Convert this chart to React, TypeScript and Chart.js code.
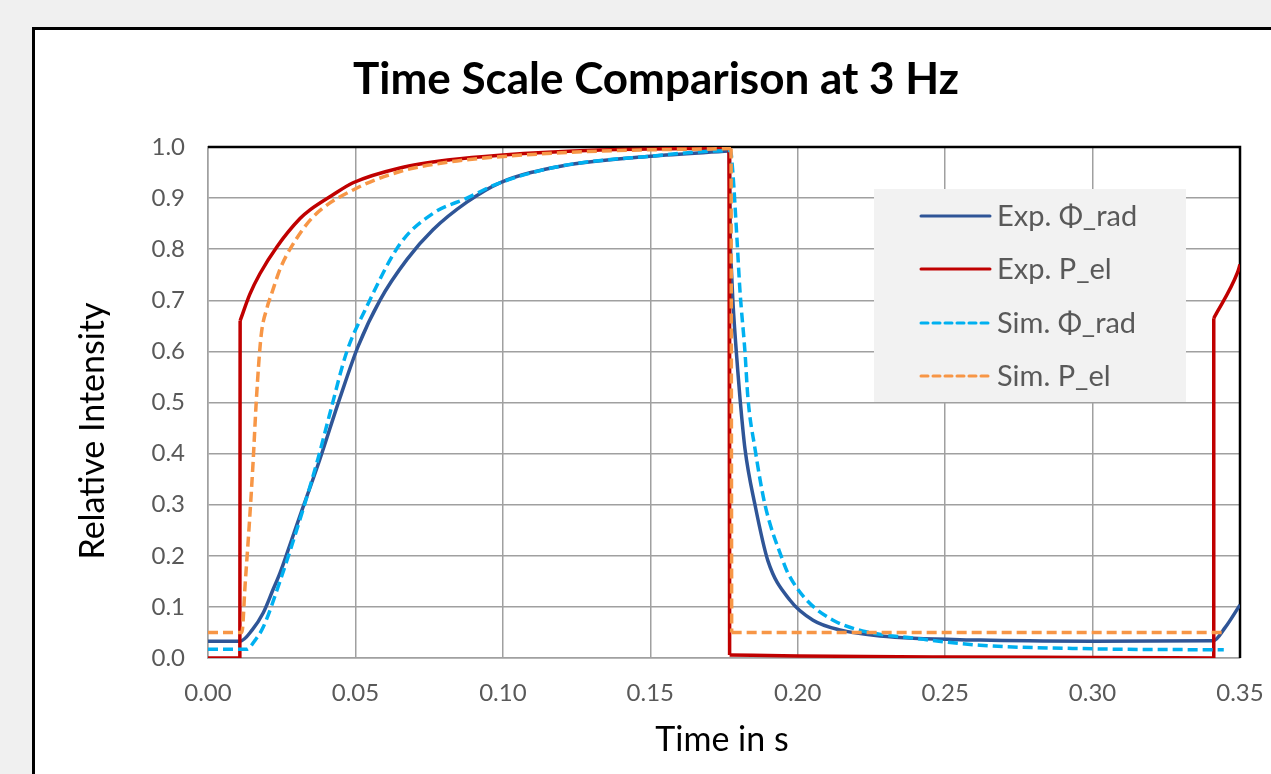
import { useEffect, useRef } from "react";
import { Chart, registerables } from "chart.js";

Chart.register(...registerables);

const FONT = "Lato, 'Noto Sans', 'DejaVu Sans', sans-serif";

const chartTitle = "Time Scale Comparison at 3 Hz";
const xAxisTitle = "Time in s";
const yAxisTitle = "Relative Intensity";

const seriesLabels = ["Exp. Φ_rad", "Exp. P_el", "Sim. Φ_rad", "Sim. P_el"];
const seriesColors = ["#2F5597", "#C00000", "#00B0F0", "#F79646"];

// Exp. Φ_rad
const expRadT = [0, 0.0109, 0.015, 0.0187, 0.022, 0.0244, 0.028, 0.0319, 0.035, 0.038, 0.0448, 0.0509, 0.0583, 0.0675, 0.0763, 0.0878, 0.099, 0.12, 0.15, 0.1768, 0.1772, 0.178, 0.1797, 0.1804, 0.1821, 0.1855, 0.1899, 0.1974, 0.2052, 0.2143, 0.2279, 0.2618, 0.3, 0.341, 0.345, 0.35];
const expRadY = [0.033, 0.033, 0.055, 0.088, 0.133, 0.166, 0.225, 0.29, 0.34, 0.39, 0.51, 0.61, 0.7, 0.78, 0.838, 0.892, 0.93, 0.963, 0.982, 0.992, 0.8, 0.7, 0.56, 0.51, 0.41, 0.3, 0.19, 0.113, 0.074, 0.055, 0.043, 0.035, 0.033, 0.034, 0.06, 0.104];

// Exp. P_el
const expPelT = [0, 0.0108, 0.0109, 0.0142, 0.0176, 0.0234, 0.0312, 0.0346, 0.042, 0.0492, 0.0651, 0.0821, 0.099, 0.133, 0.1767, 0.1769, 0.2, 0.25, 0.3, 0.3409, 0.3411, 0.3492, 0.35];
const expPelY = [0, 0, 0.66, 0.712, 0.752, 0.805, 0.86, 0.877, 0.905, 0.93, 0.959, 0.975, 0.984, 0.994, 0.998, 0.006, 0.004, 0.002, 0.001, 0, 0.665, 0.755, 0.77];

// Sim. Φ_rad
const simRadT = [0, 0.0131, 0.016, 0.0187, 0.0244, 0.0322, 0.0373, 0.0414, 0.0471, 0.0532, 0.0651, 0.0763, 0.0878, 0.099, 0.12, 0.15, 0.1772, 0.178, 0.1794, 0.1804, 0.1821, 0.1831, 0.1855, 0.1889, 0.195, 0.1967, 0.2031, 0.212, 0.2235, 0.2391, 0.2618, 0.3, 0.3445];
const simRadY = [0.017, 0.017, 0.035, 0.06, 0.15, 0.29, 0.39, 0.48, 0.6, 0.68, 0.81, 0.87, 0.9, 0.93, 0.963, 0.982, 0.993, 0.95, 0.82, 0.72, 0.6, 0.51, 0.41, 0.3, 0.19, 0.166, 0.113, 0.074, 0.051, 0.039, 0.025, 0.018, 0.016];

// Sim. P_el
const simPelT = [0, 0.0115, 0.01255, 0.0141, 0.01526, 0.01645, 0.018, 0.02, 0.0217, 0.0245, 0.0278, 0.0356, 0.0492, 0.0651, 0.0821, 0.099, 0.133, 0.1774, 0.1776, 0.3445];
const simPelY = [0.05, 0.05, 0.14, 0.27, 0.38, 0.51, 0.63, 0.685, 0.715, 0.762, 0.8, 0.863, 0.916, 0.952, 0.971, 0.981, 0.992, 0.997, 0.05, 0.05];

const seriesT = [expRadT, expPelT, simRadT, simPelT];
const seriesY = [expRadY, expPelY, simRadY, simPelY];
const seriesDash: number[][] = [[], [], [10, 5], [10, 5]];
const seriesOrder = [4, 3, 2, 1];

// Split a series into smooth curve pieces and straight vertical steps.
function splitSeries(t: number[], y: number[]) {
  const curve: { x: number; y: number | null }[] = [];
  const steps: { x: number; y: number | null }[] = [];
  for (let k = 0; k < t.length; k++) {
    curve.push({ x: t[k], y: y[k] });
    if (k < t.length - 1 && t[k + 1] - t[k] < 0.0005 && Math.abs(y[k + 1] - y[k]) > 0.15) {
      curve.push({ x: (t[k] + t[k + 1]) / 2, y: null });
      steps.push({ x: t[k], y: y[k] }, { x: t[k + 1], y: y[k + 1] }, { x: t[k + 1], y: null });
    }
  }
  return { curve, steps };
}

const framePlugin = {
  id: "frame",
  beforeDatasetsDraw(chart: any) {
    const { ctx, chartArea } = chart;
    ctx.save();
    ctx.strokeStyle = "#000";
    ctx.lineWidth = 2.5;
    ctx.beginPath();
    ctx.moveTo(chartArea.left, chartArea.top);
    ctx.lineTo(chartArea.right, chartArea.top);
    ctx.lineTo(chartArea.right, chartArea.bottom);
    ctx.stroke();
    ctx.restore();
  },
  afterDraw(chart: any) {
    const { ctx, chartArea } = chart;
    ctx.save();
    // title
    ctx.fillStyle = "#000";
    ctx.font = `bold 44px ${FONT}`;
    ctx.textAlign = "center";
    ctx.textBaseline = "middle";
    ctx.fillText(chartTitle, 621, 50);

    // axis titles
    ctx.font = `34px ${FONT}`;
    ctx.fillText(xAxisTitle, (chartArea.left + chartArea.right) / 2 - 2, 710);
    ctx.save();
    ctx.translate(58, 401);
    ctx.rotate(-Math.PI / 2);
    ctx.fillText(yAxisTitle, 0, 0);
    ctx.restore();

    // legend
    const bx = chartArea.left + 666;
    const by = chartArea.top + 42;
    ctx.fillStyle = "#f2f2f2";
    ctx.fillRect(bx, by, 312, 213);
    const rows = [27, 80, 134, 187];
    seriesLabels.forEach((label, i) => {
      const y = by + rows[i];
      ctx.strokeStyle = seriesColors[i];
      ctx.lineWidth = 3;
      ctx.lineCap = "round";
      ctx.setLineDash(seriesDash[i].length ? [7, 5] : []);
      ctx.beginPath();
      ctx.moveTo(bx + 47, y);
      ctx.lineTo(bx + 116, y);
      ctx.stroke();
      ctx.setLineDash([]);
      ctx.fillStyle = "#595959";
      ctx.font = `29px ${FONT}`;
      ctx.textAlign = "left";
      ctx.textBaseline = "middle";
      ctx.fillText(label, bx + 123, y + 1);
    });
    ctx.restore();
  },
};

export default function App() {
  const ref = useRef<HTMLCanvasElement>(null);

  useEffect(() => {
    const canvas = ref.current;
    if (!canvas) return;
    const grid = { color: "#a0a0a0", lineWidth: 1.5, drawTicks: false };
    const border = { color: "#a0a0a0", width: 1.5 };
    const datasets: any[] = [];
    seriesLabels.forEach((label, i) => {
      const { curve, steps } = splitSeries(seriesT[i], seriesY[i]);
      const common = {
        showLine: true,
        borderColor: seriesColors[i],
        backgroundColor: seriesColors[i],
        borderWidth: 3.5,
        borderDash: seriesDash[i],
        pointRadius: 0,
        pointHoverRadius: 0,
        spanGaps: false,
        order: seriesOrder[i],
      };
      datasets.push({ ...common, label, data: curve, cubicInterpolationMode: "monotone" });
      if (steps.length) datasets.push({ ...common, label: label + " step", data: steps, tension: 0 });
    });
    const chart = new Chart(canvas, {
      type: "scatter",
      data: { datasets },
      options: {
        animation: false,
        responsive: false,
        devicePixelRatio: 1,
        layout: { padding: { top: 117, right: 31, bottom: 0, left: 0 } },
        plugins: {
          legend: { display: false },
          tooltip: { enabled: false },
          title: { display: false },
        },
        scales: {
          x: {
            type: "linear",
            min: 0,
            max: 0.35,
            ticks: {
              stepSize: 0.05,
              callback: (v: any) => Number(v).toFixed(2),
              color: "#595959",
              font: { family: FONT, size: 24 },
              padding: 21,
              maxRotation: 0,
            },
            grid,
            border,
            afterFit: (s: any) => {
              s.height = 116;
              s.paddingLeft = 0;
              s.paddingRight = 0;
            },
          },
          y: {
            type: "linear",
            min: 0,
            max: 1,
            ticks: {
              stepSize: 0.1,
              callback: (v: any) => Number(v).toFixed(1),
              color: "#595959",
              font: { family: FONT, size: 24 },
              padding: 23,
            },
            grid,
            border,
            afterFit: (s: any) => {
              s.width = 173;
              s.paddingTop = 0;
              s.paddingBottom = 0;
            },
          },
        },
      } as any,
      plugins: [framePlugin],
    });
    let alive = true;
    const fonts = (document as any).fonts;
    if (fonts && fonts.load) {
      Promise.all([fonts.load(`bold 44px Lato`), fonts.load(`29px Lato`)])
        .then(() => {
          if (alive) chart.update();
        })
        .catch(() => {});
    }
    return () => {
      alive = false;
      chart.destroy();
    };
  }, []);

  return (
    <div style={{ position: "fixed", inset: 0, background: "#f0f0f0", overflow: "hidden" }}>
      <div
        style={{
          position: "absolute",
          left: 32,
          top: 27,
          width: 1300,
          height: 800,
          border: "3px solid #000",
          background: "#fff",
        }}
      >
        <canvas ref={ref} width={1236} height={744} style={{ display: "block", width: 1236, height: 744 }} />
      </div>
    </div>
  );
}
